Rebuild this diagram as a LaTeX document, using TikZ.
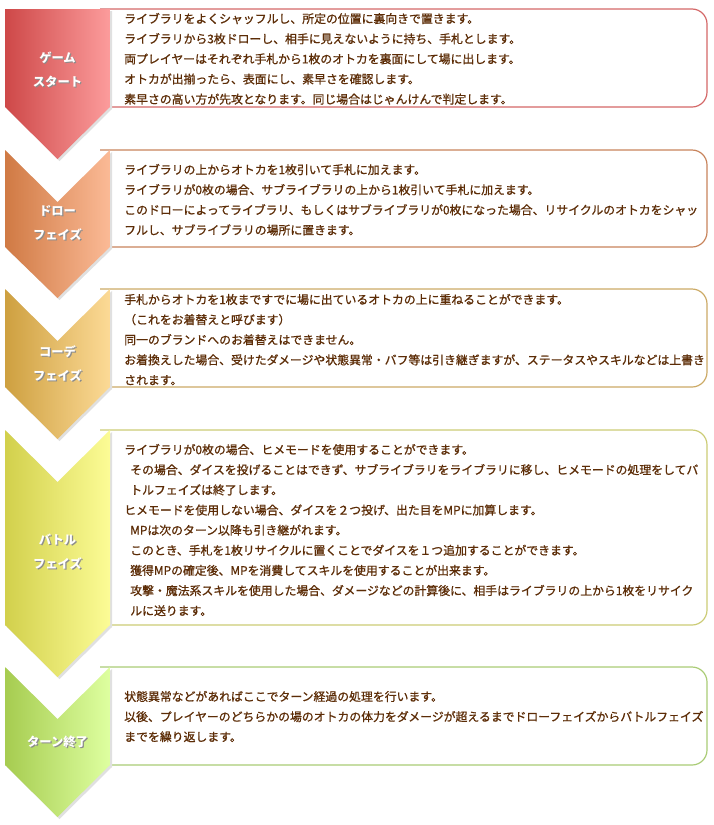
\documentclass[tikz,border=0pt]{standalone}
\usepackage{fontspec}
\setmainfont{Noto Sans CJK JP}
\newfontfamily\boxfont{Noto Sans CJK JP}[FakeBold=0.9]
\definecolor{textbrown}{RGB}{92,44,6}
\definecolor{redL}{RGB}{206,72,72}\definecolor{redR}{RGB}{252,156,156}\definecolor{redB}{RGB}{212,104,104}
\definecolor{orangeL}{RGB}{208,122,68}\definecolor{orangeR}{RGB}{251,186,150}\definecolor{orangeB}{RGB}{200,132,92}
\definecolor{goldL}{RGB}{206,160,64}\definecolor{goldR}{RGB}{252,218,150}\definecolor{goldB}{RGB}{204,170,102}
\definecolor{yellowL}{RGB}{210,208,76}\definecolor{yellowR}{RGB}{252,252,150}\definecolor{yellowB}{RGB}{204,204,118}
\definecolor{greenL}{RGB}{166,204,80}\definecolor{greenR}{RGB}{222,255,160}\definecolor{greenB}{RGB}{170,204,118}
\newcommand{\labelshadow}[1]{\makebox[0pt][l]{\raisebox{-0.9pt}{\hspace{0.9pt}\textcolor{black!45}{#1}}}#1}

\begin{document}
\begin{tikzpicture}[x=0.75pt,y=-0.75pt,
  phasebox/.style={line width=0.9pt, fill=white, rounded corners=11.25pt},
  phaseshadow/.style={fill=black!12, draw=none},
  phaselabel/.style={text=white, font=\fontsize{9.2}{18}\selectfont\bfseries, align=center, inner sep=0pt},
  phasetext/.style={text=textbrown, font=\boxfont\fontsize{8.9}{15.1}\selectfont, align=left, inner sep=0pt, anchor=north west}]
\useasboundingbox (0,0) rectangle (714,825);
% Drawing boxes
\draw[phasebox, draw=redB] (100,9) -- (707,9) -- (707,107) -- (100,107);
\draw[phasebox, draw=orangeB] (100,150) -- (707,150) -- (707,247) -- (100,247);
\draw[phasebox, draw=goldB] (100,289) -- (707,289) -- (707,387) -- (100,387);
\draw[phasebox, draw=yellowB] (100,430) -- (707,430) -- (707,625) -- (100,625);
\draw[phasebox, draw=greenB] (100,667) -- (707,667) -- (707,765) -- (100,765);
% Done with boxes; drawing chevrons
\fill[phaseshadow] (7,11) -- (112,11) -- (112,109) -- (59.5,161) -- (7,109) -- cycle;
\shade[left color=redL, right color=redR] (5,9) -- (110,9) -- (110,107) -- (57.5,159) -- (5,107) -- cycle;
\fill[phaseshadow] (7,152) -- (59.5,204) -- (112,152) -- (112,249) -- (59.5,300) -- (7,249) -- cycle;
\shade[left color=orangeL, right color=orangeR] (5,150) -- (57.5,202) -- (110,150) -- (110,247) -- (57.5,298) -- (5,247) -- cycle;
\fill[phaseshadow] (7,291) -- (59.5,343) -- (112,291) -- (112,389) -- (59.5,441) -- (7,389) -- cycle;
\shade[left color=goldL, right color=goldR] (5,289) -- (57.5,341) -- (110,289) -- (110,387) -- (57.5,439) -- (5,387) -- cycle;
\fill[phaseshadow] (7,432) -- (59.5,484) -- (112,432) -- (112,627) -- (59.5,679) -- (7,627) -- cycle;
\shade[left color=yellowL, right color=yellowR] (5,430) -- (57.5,482) -- (110,430) -- (110,625) -- (57.5,677) -- (5,625) -- cycle;
\fill[phaseshadow] (7,669) -- (59.5,721) -- (112,669) -- (112,767) -- (59.5,819) -- (7,767) -- cycle;
\shade[left color=greenL, right color=greenR] (5,667) -- (57.5,719) -- (110,667) -- (110,765) -- (57.5,817) -- (5,765) -- cycle;
% Done with chevrons; drawing labels
\node[phaselabel] (start) at (57.5,70) {\labelshadow{ゲーム}\\\labelshadow{スタート}};
\node[phaselabel] (draw) at (57.5,223.5) {\labelshadow{ドロー}\\\labelshadow{フェイズ}};
\node[phaselabel] (coord) at (57.5,364.5) {\labelshadow{コーデ}\\\labelshadow{フェイズ}};
\node[phaselabel] (battle) at (57.5,552.5) {\labelshadow{バトル}\\\labelshadow{フェイズ}};
\node[phaselabel] (turnend) at (57.5,742) {\labelshadow{ターン終了}};
% Done with labels; drawing texts
\node[phasetext] (starttext) at (124,12.7) {ライブラリをよくシャッフルし、所定の位置に裏向きで置きます。\\
ライブラリから3枚ドローし、相手に見えないように持ち、手札とします。\\
両プレイヤーはそれぞれ手札から1枚のオトカを裏面にして場に出します。\\
オトカが出揃ったら、表面にし、素早さを確認します。\\
素早さの高い方が先攻となります。同じ場合はじゃんけんで判定します。};
\node[phasetext] (drawtext) at (124,163.7) {ライブラリの上からオトカを1枚引いて手札に加えます。\\
ライブラリが0枚の場合、サブライブラリの上から1枚引いて手札に加えます。\\
このドローによってライブラリ、もしくはサブライブラリが0枚になった場合、リサイクルのオトカをシャッ\\
フルし、サブライブラリの場所に置きます。};
\node[phasetext] (coordtext) at (124,293.7) {手札からオトカを1枚まですでに場に出ているオトカの上に重ねることができます。\\
（これをお着替えと呼びます）\\
同一のブランドへのお着替えはできません。\\
お着換えした場合、受けたダメージや状態異常・バフ等は引き継ぎますが、ステータスやスキルなどは上書き\\
されます。};
\node[phasetext] (battletext) at (124,443.7) {ライブラリが0枚の場合、ヒメモードを使用することができます。\\
\hspace*{4.5pt}その場合、ダイスを投げることはできず、サブライブラリをライブラリに移し、ヒメモードの処理をしてバ\\
\hspace*{4.5pt}トルフェイズは終了します。\\
ヒメモードを使用しない場合、ダイスを２つ投げ、出た目をMPに加算します。\\
\hspace*{4.5pt}MPは次のターン以降も引き継がれます。\\
\hspace*{4.5pt}このとき、手札を1枚リサイクルに置くことでダイスを１つ追加することができます。\\
\hspace*{4.5pt}獲得MPの確定後、MPを消費してスキルを使用することが出来ます。\\
\hspace*{4.5pt}攻撃・魔法系スキルを使用した場合、ダメージなどの計算後に、相手はライブラリの上から1枚をリサイク\\
\hspace*{4.5pt}ルに送ります。};
\node[phasetext] (turnendtext) at (124,690.7) {状態異常などがあればここでターン経過の処理を行います。\\
以後、プレイヤーのどちらかの場のオトカの体力をダメージが超えるまでドローフェイズからバトルフェイズ\\
までを繰り返します。};
% Done with texts
\end{tikzpicture}
\end{document}
